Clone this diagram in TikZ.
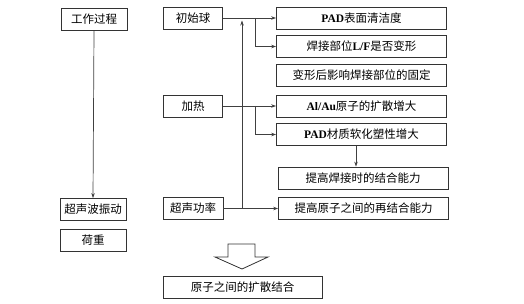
\documentclass[tikz,border=0pt]{standalone}
\usepackage{fontspec}
\setmainfont{Liberation Serif}
\newfontfamily\cjk{Noto Sans CJK SC}
\newfontfamily\lat{Liberation Serif}
\newcommand\latb[1]{{\lat\bfseries #1}}
\usetikzlibrary{arrows.meta}
\begin{document}
\begin{tikzpicture}[x=1pt,y=1pt,
  every node/.style={font=\fontsize{11.5}{14}\selectfont\cjk},
  box/.style={draw=black!80,line width=0.8pt,inner sep=0pt,minimum height=22pt},
  lbox/.style={box,minimum width=66pt},
  mbox/.style={box,minimum width=59pt},
  rbox/.style={box,minimum width=170pt},
  conn/.style={draw=black!75,line width=0.7pt},
  arr/.style={conn,-{Stealth[length=5pt,width=3.5pt]}}]
\useasboundingbox (0,0) rectangle (524,-304);
% left column
\node[lbox] (work) at (94,-19.5) {工作过程};
\node[lbox] (us) at (93,-209.5) {超声波振动};
\node[lbox] (load) at (93,-240) {荷重};
% middle column
\node[mbox] (init) at (193,-18) {初始球};
\node[mbox] (heat) at (193,-106) {加热};
\node[mbox,minimum width=60pt] (power) at (193,-208.5) {超声功率};
% right column
\node[rbox] (r1) at (361.5,-18) {\latb{PAD}表面清洁度};
\node[rbox] (r2) at (361.5,-46.5) {焊接部位\latb{L/F}是否变形};
\node[rbox] (r3) at (361.5,-75.5) {变形后影响焊接部位的固定};
\node[rbox] (r4) at (361.5,-106) {\latb{Al/Au}原子的扩散增大};
\node[rbox] (r5) at (361.5,-134.5) {\latb{PAD}材质软化塑性增大};
\node[rbox] (r6) at (363,-178) {提高焊接时的结合能力};
\node[rbox] (r7) at (363.5,-208.5) {提高原子之间的再结合能力};
\node[box,minimum width=159pt] (final) at (242.5,-287) {原子之间的扩散结合};
% helper coordinates
\coordinate (vx) at (242,0);
\coordinate (bx) at (255,0);
\coordinate (dx) at (356,0);
\coordinate (vtop) at (242,-20.5);
% connectors
\draw[arr] (work.south) -- (us.north);
\draw[arr] (init.east) -- (r1.west);
\draw[arr] (init.east -| bx) |- (r2.west);
\draw[arr] (heat.east) -- (r4.west);
\draw[arr] (heat.east -| bx) |- (r5.west);
\draw[arr] (power.east) -- (r7.west);
\draw[arr] (power.east -| vx) -- (vtop);
\draw[arr] (r5.south -| dx) -- (r6.north -| dx);
% hollow arrow
\draw[draw=black!80,line width=0.8pt,fill=white]
  (228,-244) -- (255,-244) -- (255,-257) -- (268,-257) -- (242,-269)
  -- (215,-257) -- (228,-257) -- cycle;
\end{tikzpicture}
\end{document}
